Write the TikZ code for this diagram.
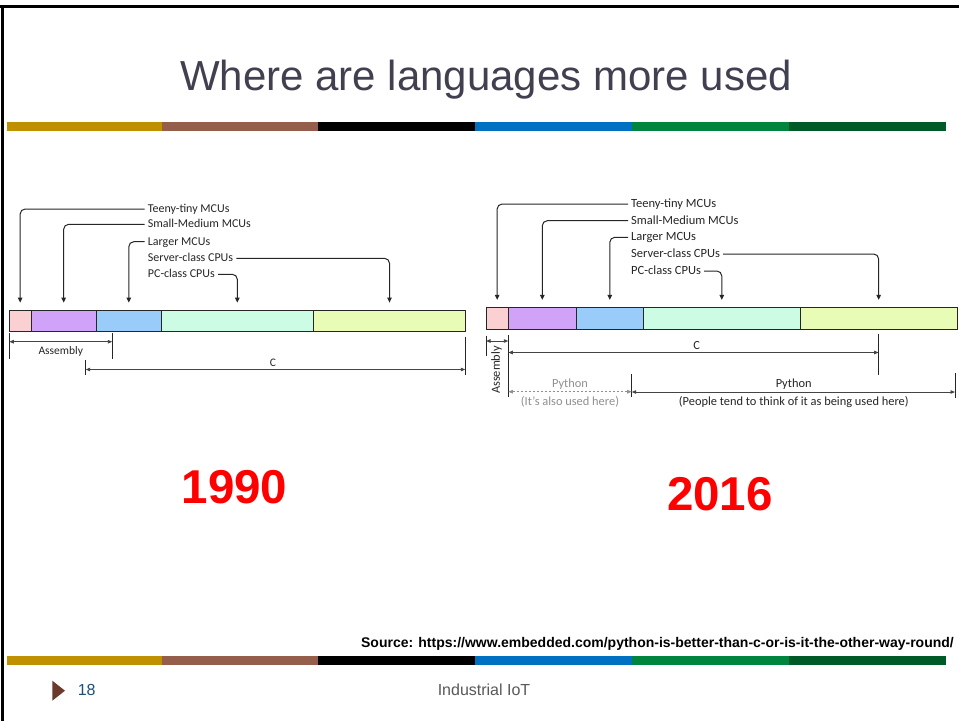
\documentclass[tikz,border=0pt]{standalone}
\usepackage{fontspec}
\setmainfont{Liberation Sans}
\newfontfamily\calfont{Carlito}
\usetikzlibrary{arrows.meta}
\definecolor{bgold}{HTML}{BF9000}
\definecolor{bbrown}{HTML}{955E4B}
\definecolor{bblue}{HTML}{0070C0}
\definecolor{bgreen}{HTML}{00843E}
\definecolor{bdkgreen}{HTML}{005A27}
\definecolor{titlegray}{HTML}{404050}
\definecolor{segpink}{HTML}{FAD0D2}
\definecolor{segpurple}{HTML}{D0A2F8}
\definecolor{segblue}{HTML}{99CCF8}
\definecolor{segmint}{HTML}{CCFCE4}
\definecolor{segyellow}{HTML}{E8FCB6}
\definecolor{diagline}{HTML}{262626}
\definecolor{dimgray}{HTML}{444444}
\definecolor{pygray}{HTML}{909090}
\definecolor{numblue}{HTML}{1F4E79}
\definecolor{footgray}{HTML}{595959}
\definecolor{bullet}{HTML}{6B3A2A}
\tikzset{
  seg/.style={draw=diagline, line width=0.9pt, inner sep=0pt, minimum height=#1},
  lbl/.style={font=\calfont\fontsize{12}{14}\selectfont, text=diagline, inner sep=3pt, text height=8.5pt, text depth=1.5pt},
  rlbl/.style={font=\calfont\fontsize{12.5}{14}\selectfont, text=diagline, inner sep=3pt, text height=8.8pt, text depth=1.6pt},
  callout/.style={draw=diagline, line width=1pt, rounded corners=5pt, -{Triangle[length=5pt,width=4.5pt]}},
  dimline/.style={draw=dimgray, line width=0.9pt, {Triangle[length=4.5pt,width=3.5pt]}-{Triangle[length=4.5pt,width=3.5pt]}},
  pydim/.style={draw=pygray, line width=0.9pt, dashed, dash pattern=on 2.5pt off 1.5pt, {Triangle[length=4.5pt,width=3.5pt]}-{Triangle[length=4.5pt,width=3.5pt]}},
  tick/.style={draw=diagline, line width=0.9pt},
  dimtxt/.style={font=\calfont\fontsize{11.5}{13}\selectfont, text=diagline, inner sep=0pt},
  rdimtxt/.style={font=\calfont\fontsize{12.4}{14}\selectfont, text=diagline, inner sep=0pt},
  year/.style={font=\bfseries\fontsize{47.5}{56}\selectfont, text=red, anchor=base, inner sep=0pt}
}
\begin{document}
\begin{tikzpicture}[x=1pt,y=-1pt]
\useasboundingbox (0,0) rectangle (959,721);
\fill[white] (0,0) rectangle (959,721);
% frame
\fill[black] (0,5) rectangle (959,8.3);
\fill[black] (0.5,5) rectangle (4,721);
% colour bands
\foreach \yy in {122,656} {
  \fill[bgold] (7.3,\yy) rectangle (162,\yy+9);
  \fill[bbrown] (162,\yy) rectangle (318,\yy+9);
  \fill[black] (318,\yy) rectangle (475,\yy+9);
  \fill[bblue] (475,\yy) rectangle (632,\yy+9);
  \fill[bgreen] (632,\yy) rectangle (789,\yy+9);
  \fill[bdkgreen] (789,\yy) rectangle (946,\yy+9);
}
% title
\node[font=\fontsize{42}{50}\selectfont, text=titlegray, anchor=base, inner sep=0pt] (title) at (486,90) {Where are languages more used};

% ===== left diagram (1990) =====
\node[seg=21.3pt, fill=segpink,   minimum width=21.7pt]  (l1) at (20.15,320.7) {};
\node[seg=21.3pt, fill=segpurple, minimum width=65.3pt]  (l2) at (63.65,320.7) {};
\node[seg=21.3pt, fill=segblue,   minimum width=65pt]    (l3) at (128.8,320.7) {};
\node[seg=21.3pt, fill=segmint,   minimum width=152pt]   (l4) at (237.3,320.7) {};
\node[seg=21.3pt, fill=segyellow, minimum width=152.4pt] (l5) at (389.5,320.7) {};

\node[lbl, anchor=west] (ltt) at (144.7,209)   {Teeny-tiny MCUs};
\node[lbl, anchor=west] (lsm) at (144.7,224.3) {Small-Medium MCUs};
\node[lbl, anchor=west] (llg) at (144.7,241.7) {Larger MCUs};
\node[lbl, anchor=west] (lsv) at (144.7,258.3) {Server-class CPUs};
\node[lbl, anchor=west] (lpc) at (144.7,274.3) {PC-class CPUs};

\draw[callout] (ltt.west) -| ([yshift=7pt]l1.north);
\draw[callout] (lsm.west) -| ([yshift=7pt]l2.north);
\draw[callout] (llg.west) -| ([yshift=7pt]l3.north);
\draw[callout] (lsv.east) -| ([yshift=7pt]l5.north);
\draw[callout] (lpc.east) -| ([yshift=7pt]l4.north);

% Assembly (left)
\coordinate (laT1) at (9.3,333);   \coordinate (laB1) at (9.3,358.5);
\coordinate (laT2) at (112.3,333); \coordinate (laB2) at (112.3,358.5);
\coordinate (laL) at (9.3,341.7);  \coordinate (laR) at (112.3,341.7);
\draw[tick] (laT1) -- (laB1);
\draw[tick] (laT2) -- (laB2);
\draw[dimline] (laL) -- (laR);
\node[dimtxt] (lasm) at (60.8,351.5) {Assembly};
% C (left)
\coordinate (lcT1) at (85.7,360);  \coordinate (lcB1) at (85.7,375);
\coordinate (lcT2) at (465.3,336.7); \coordinate (lcB2) at (465.3,375);
\coordinate (lcL) at (85.7,369.5); \coordinate (lcR) at (465.3,369.5);
\draw[tick] (lcT1) -- (lcB1);
\draw[tick] (lcT2) -- (lcB2);
\draw[dimline] (lcL) -- (lcR);
\node[dimtxt] (lc) at (273,363) {C};

% ===== right diagram (2016) =====
\node[seg=22pt, fill=segpink,   minimum width=22.3pt]  (r1) at (497.15,318.3) {};
\node[seg=22pt, fill=segpurple, minimum width=68pt]    (r2) at (542.3,318.3) {};
\node[seg=22pt, fill=segblue,   minimum width=67pt]    (r3) at (609.8,318.3) {};
\node[seg=22pt, fill=segmint,   minimum width=157pt]   (r4) at (721.8,318.3) {};
\node[seg=22pt, fill=segyellow, minimum width=156.7pt] (r5) at (878.65,318.3) {};

\node[rlbl, anchor=west] (rtt) at (628,204)   {Teeny-tiny MCUs};
\node[rlbl, anchor=west] (rsm) at (628,220.7) {Small-Medium MCUs};
\node[rlbl, anchor=west] (rlg) at (628,237.3) {Larger MCUs};
\node[rlbl, anchor=west] (rsv) at (628,254)   {Server-class CPUs};
\node[rlbl, anchor=west] (rpc) at (628,271)   {PC-class CPUs};

\draw[callout] (rtt.west) -| ([yshift=7pt]r1.north);
\draw[callout] (rsm.west) -| ([yshift=7pt]r2.north);
\draw[callout] (rlg.west) -| ([yshift=7pt]r3.north);
\draw[callout] (rsv.east) -| ([yshift=7pt]r5.north);
\draw[callout] (rpc.east) -| ([yshift=7pt]r4.north);

% Assembly (right)
\coordinate (raT1) at (486,335.7);   \coordinate (raB1) at (486,356);
\coordinate (raT2) at (508.3,335);   \coordinate (raB2) at (508.3,397);
\coordinate (raL) at (486,341);      \coordinate (raR) at (508.3,341);
\draw[tick] (raT1) -- (raB1);
\draw[tick] (raT2) -- (raB2);
\draw[dimline] (raL) -- (raR);
\node[rdimtxt, rotate=90] (rasm) at (496.5,370) {Assembly};
% C (right)
\coordinate (rcT2) at (878.6,334); \coordinate (rcB2) at (878.6,375);
\coordinate (rcL) at (508.3,352.5); \coordinate (rcR) at (878.6,352.5);
\draw[tick] (rcT2) -- (rcB2);
\draw[dimline] (rcL) -- (rcR);
\node[rdimtxt] (rc) at (696.7,345.5) {C};
% Python (right)
\coordinate (rpT1) at (631.7,374); \coordinate (rpB1) at (631.7,397);
\coordinate (rpT2) at (955,373);   \coordinate (rpB2) at (955,398);
\coordinate (rpdL) at (508.3,391.7); \coordinate (rpdR) at (631.7,391.7);
\coordinate (rpsL) at (631.7,392);   \coordinate (rpsR) at (955,392);
\draw[tick] (rpT1) -- (rpB1);
\draw[tick] (rpT2) -- (rpB2);
\draw[pydim] (rpdL) -- (rpdR);
\draw[dimline] (rpsL) -- (rpsR);
\node[rdimtxt, text=pygray] (rpy1) at (570,384) {Python};
\node[rdimtxt, text=pygray] (rpy1b) at (570,401.7) {(It’s also used here)};
\node[rdimtxt] (rpy2) at (793.7,384) {Python};
\node[rdimtxt] (rpy2b) at (793.8,402) {(People tend to think of it as being used here)};

% years
\node[year] (y1990) at (234.5,503.5) {1990};
\node[year] (y2016) at (720,510) {2016};

% footer
\node[font=\bfseries\fontsize{14}{16}\selectfont, anchor=base east, inner sep=0pt] (src) at (954,647) {Source: https://www.embedded.com/python-is-better-than-c-or-is-it-the-other-way-round/};
\fill[bullet] (52.3,680.7) -- (65,690.7) -- (52.3,700.7) -- cycle;
\node[font=\fontsize{16}{18}\selectfont, text=numblue, anchor=base west, inner sep=0pt] (pnum) at (77.6,695) {18};
\node[font=\fontsize{16}{18}\selectfont, text=footgray, anchor=base, inner sep=0pt] (foot) at (484,695) {Industrial IoT};
\end{tikzpicture}
\end{document}
